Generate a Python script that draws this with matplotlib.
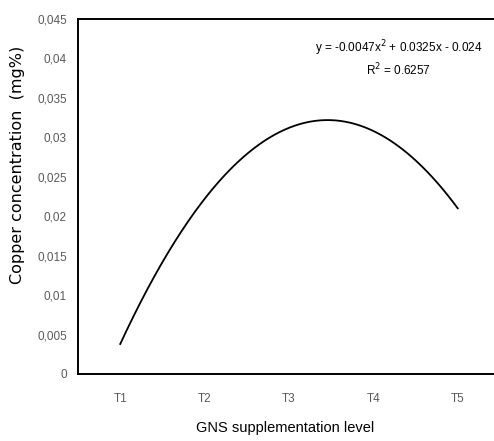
import numpy as np
import matplotlib
matplotlib.use("Agg")
import matplotlib.pyplot as plt

levels = ["T1", "T2", "T3", "T4", "T5"]
copper = [0.0038, 0.0222, 0.0312, 0.0308, 0.0210]
y_ticks = [0, 0.005, 0.01, 0.015, 0.02, 0.025, 0.03, 0.035, 0.04, 0.045]
eq_text = "y = -0.0047x$^2$ + 0.0325x - 0.024"
r2_text = "R$^2$ = 0.6257"

narrow = ["Liberation Sans", "DejaVu Sans"]

fig = plt.figure(figsize=(4.94, 4.41), dpi=100)
ax = fig.add_axes([0.158, 0.152, 0.854, 0.805])

x = np.arange(1, len(levels) + 1)
coef = np.polyfit(x, copper, 2)  # 2nd order trendline, as in the spreadsheet
xs = np.linspace(1, 5, 200)
ax.plot(xs, np.polyval(coef, xs), color="black", lw=1.3)

ax.set_xlim(0.5, 5.5)
ax.set_ylim(0, 0.045)
ax.set_xticks(x)
ax.set_xticklabels(levels, family=narrow, fontsize=8.5, color="#595959")
ax.set_yticks(y_ticks)
ax.set_yticklabels([("%g" % v).replace(".", ",") for v in y_ticks],
                   family=narrow, fontsize=8.5, color="#595959")
ax.tick_params(length=0, pad=8)
ax.tick_params(axis="x", pad=14)
for s in ax.spines.values():
    s.set_linewidth(1.4)

ax.text(0.76, 0.918, eq_text, transform=ax.transAxes, ha="center", va="center",
        family=narrow, fontsize=8.5)
ax.text(0.76, 0.856, r2_text, transform=ax.transAxes, ha="center", va="center",
        family=narrow, fontsize=8.5)

ax.set_ylabel("Copper concentration  (mg%)", fontsize=11.5)
ax.yaxis.set_label_coords(-0.125, 0.59)
fig.text(0.577, 0.03, "GNS supplementation level", ha="center", va="center",
         family=narrow, fontsize=10.5)

fig.savefig("out.png", dpi=100)
